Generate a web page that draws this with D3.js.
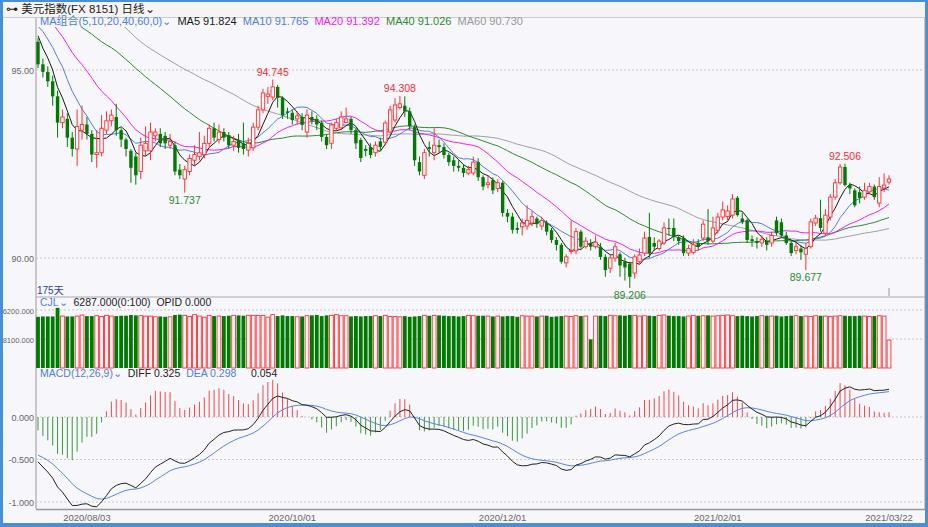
<!DOCTYPE html>
<html>
<head>
<meta charset="utf-8">
<script src="https://cdn.jsdelivr.net/npm/d3@7"></script>
<style>
  body { margin: 0; background: #fff; }
  svg { display: block; font-family: "Liberation Sans", "Noto Sans CJK SC", sans-serif; }
</style>
</head>
<body>
<svg id="chart" width="928" height="527"></svg>
<script>
// price history before the visible window (only feeds the moving averages / MACD)
const priorCloses = [100.3,100.4,100.0,99.8,99.9,99.1,99.3,99.8,100.1,100.0,99.7,99.9,100.2,100.4,100.0,99.6,99.5,99.3,99.7,99.9,
  99.8,99.5,99.1,98.4,98.3,98.1,97.7,97.6,97.0,96.9,96.7,96.5,96.9,97.3,97.0,96.8,97.1,97.6,97.3,97.0,
  97.1,97.4,97.6,97.5,97.4,97.1,97.4,97.2,96.9,96.6,96.7,96.4,96.7,96.5,96.3,96.2,96.6,96.0,95.9,95.9];

const opens = [95.75,95.15,94.95,94.70,94.30,93.60,93.70,93.20,92.90,93.40,
  93.55,93.30,92.75,92.80,93.40,93.65,93.75,93.40,93.15,92.85,
  92.70,92.30,92.85,92.85,93.25,93.30,93.25,93.00,93.00,92.35,
  92.10,92.30,92.60,92.70,92.75,93.05,93.45,93.15,93.35,93.27,
  93.00,93.14,93.05,92.87,92.93,93.48,93.94,94.30,94.28,94.55,
  94.26,93.90,93.86,93.70,93.75,93.35,93.75,93.70,93.60,93.22,
  93.05,93.45,93.46,93.60,93.70,93.40,93.14,92.90,92.95,92.80,
  93.10,93.08,93.35,93.67,94.00,94.05,93.90,93.48,92.55,92.20,
  92.95,92.80,93.00,92.95,92.74,92.60,92.45,92.40,92.26,92.26,
  92.55,92.15,91.95,92.07,91.85,92.00,91.20,91.10,90.80,90.83,
  90.85,90.93,91.05,90.85,90.93,90.74,90.48,90.35,89.87,90.19,
  90.19,90.70,90.30,90.40,90.30,90.30,90.03,89.73,90.00,90.10,
  89.90,89.85,89.60,89.90,90.13,90.56,90.40,90.25,90.40,90.80,
  90.80,90.55,90.53,90.13,90.15,90.40,90.53,90.55,90.45,90.74,
  91.09,91.10,91.14,91.60,91.05,91.00,90.50,90.45,90.40,90.45,
  90.40,91.00,90.95,90.60,90.40,90.20,90.25,90.10,90.30,90.93,
  91.06,90.66,91.09,91.62,92.00,92.42,91.94,91.80,91.75,91.62,
  91.76,91.90,91.46,91.86,92.02];
const closes = [95.15,94.95,94.70,94.30,93.60,93.75,93.20,92.90,93.50,93.55,
  93.30,92.75,92.80,93.45,93.65,93.80,93.40,93.15,92.90,92.40,
  92.20,93.00,93.05,93.35,93.35,93.05,93.05,93.10,92.30,92.20,
  92.35,92.65,92.75,92.80,93.05,93.45,93.20,93.35,93.20,93.00,
  93.10,92.93,92.90,93.05,93.48,93.94,94.39,94.36,94.55,94.26,
  93.80,93.86,93.67,93.78,93.54,93.80,93.65,93.55,93.22,93.00,
  93.54,93.60,93.75,93.70,93.40,93.05,92.66,92.85,92.74,93.00,
  92.95,93.59,93.94,94.07,94.10,93.90,93.50,92.60,92.30,92.80,
  92.90,93.00,92.95,92.74,92.55,92.45,92.40,92.26,92.35,92.55,
  92.15,91.90,92.00,91.80,92.00,91.20,91.10,90.75,90.75,90.93,
  91.00,91.10,90.90,91.00,90.70,90.48,90.35,89.90,90.03,90.20,
  90.70,90.30,90.45,90.30,90.42,90.03,89.68,90.00,90.30,89.80,
  89.75,89.50,90.03,90.08,90.53,90.13,90.30,90.45,90.80,90.78,
  90.56,90.45,90.13,90.25,90.35,90.30,90.90,90.45,90.80,91.09,
  91.28,91.25,91.57,91.14,90.95,90.48,90.45,90.40,90.50,90.35,
  90.60,90.66,90.60,90.40,90.13,90.30,90.15,90.25,90.96,91.06,
  90.80,91.14,91.62,92.00,92.42,91.94,91.85,91.40,91.60,91.80,
  91.90,91.62,91.90,91.94,92.10];
const highs = [95.85,95.30,95.10,94.85,94.45,93.95,93.85,93.35,93.95,94.05,
  93.75,93.40,93.40,93.80,93.90,93.95,94.10,93.45,93.20,92.90,
  92.80,93.20,93.50,93.60,93.45,93.45,93.35,93.30,93.10,92.50,
  92.45,92.75,93.00,93.35,93.25,93.55,93.60,93.55,93.45,93.35,
  93.25,93.30,93.60,93.20,93.60,94.05,94.50,94.55,94.745,94.60,
  94.30,94.00,93.95,93.90,93.85,93.95,93.90,93.80,93.65,93.30,
  93.60,93.70,93.90,94.00,93.75,93.45,93.20,93.00,93.05,93.10,
  93.20,93.65,94.05,94.25,94.308,94.30,94.00,93.55,92.70,92.90,
  93.10,93.45,93.15,93.05,92.80,92.70,92.60,92.50,92.45,92.70,
  92.65,92.20,92.20,92.15,92.10,92.05,91.30,91.20,90.95,91.05,
  91.40,91.25,91.10,91.10,91.00,90.80,90.55,90.40,90.10,91.00,
  90.80,90.75,90.55,90.50,90.60,90.40,90.10,90.10,90.40,90.15,
  90.00,89.90,90.10,90.25,90.70,91.20,90.55,90.50,90.95,91.05,
  91.05,90.60,90.60,90.35,90.50,90.50,91.00,91.30,91.10,91.20,
  91.50,91.40,91.70,91.65,91.20,91.05,90.60,90.55,90.60,90.55,
  90.70,91.10,91.05,90.70,90.45,90.40,90.35,90.40,91.05,91.15,
  91.55,91.30,91.70,92.10,92.50,92.506,92.00,91.85,91.90,92.00,
  92.00,91.95,92.15,92.25,92.20];
const lows = [95.05,94.80,94.55,94.05,93.20,93.45,92.95,92.70,92.45,93.15,
  93.15,92.55,92.40,92.70,93.30,93.50,93.25,92.95,92.70,92.00,
  91.95,92.10,92.70,92.60,93.10,92.95,92.90,92.90,92.20,92.10,
  91.737,92.20,92.45,92.60,92.65,92.95,93.10,93.05,93.10,92.90,
  92.85,92.80,92.75,92.70,92.85,93.40,93.85,94.10,94.20,94.00,
  93.70,93.70,93.55,93.55,93.40,93.20,93.55,93.40,93.10,92.90,
  92.90,93.40,93.40,93.60,93.30,92.90,92.55,92.70,92.65,92.70,
  92.85,93.00,93.30,93.60,93.95,93.75,93.40,92.45,92.20,92.10,
  92.70,92.60,92.80,92.65,92.45,92.30,92.30,92.15,92.20,92.20,
  92.05,91.80,91.85,91.70,91.75,91.10,90.95,90.65,90.65,90.60,
  90.75,90.85,90.80,90.75,90.60,90.40,90.20,89.85,89.75,90.10,
  90.10,90.25,90.25,90.20,90.25,89.95,89.50,89.60,89.90,89.50,
  89.40,89.206,89.45,89.85,90.05,90.00,90.20,90.20,90.35,90.60,
  90.45,90.35,90.05,90.05,90.10,90.20,90.45,90.35,90.40,90.65,
  91.00,91.00,91.05,91.10,90.90,90.40,90.30,90.25,90.30,90.20,
  90.30,90.60,90.55,90.35,90.05,90.10,89.95,89.677,90.25,90.85,
  90.70,90.60,91.00,91.55,91.95,91.90,91.70,91.35,91.45,91.55,
  91.70,91.55,91.35,91.75,91.95];
const volumes = [14300,14400,14400,14400,16800,14500,14400,14400,14500,14800,
  14500,14500,14600,14400,14700,14500,14500,14600,14600,14800,
  14700,14600,14500,14500,14300,14400,14300,14300,14800,14900,
  14700,14400,14900,14500,14200,14700,14500,14500,14500,14600,
  14700,14700,14600,14700,14700,14700,14700,14200,14900,14500,
  14700,14500,14500,14300,14400,14600,14700,14800,14500,14700,
  14700,14900,14600,14600,14400,14500,14400,14500,14500,14600,
  14500,14700,14400,14400,14300,14500,14300,14400,14500,14700,
  14600,14700,14700,14600,14500,14500,14400,14500,14700,14600,
  14600,14600,14500,14400,14500,14400,14500,14500,14300,14600,
  14500,14500,14400,14500,14600,14300,14400,14500,14500,14400,
  14600,14500,14500,8000,14500,14600,14500,14700,14600,14700,
  14600,14800,14700,14500,14600,14600,14500,14700,14800,14600,
  14500,14500,14400,14500,14700,14600,14600,14700,14500,14600,
  14700,14800,14600,14500,14600,14500,14400,14500,14600,14600,
  14500,14600,14400,14500,14600,14600,14500,14500,14400,14600,
  14600,14500,14400,14500,14600,14600,14500,14500,14600,14500,
  14400,14500,14600,14500,7800];

const priceTicks = [95, 90];
const volTicks = [16200, 8100];
const volTickLabels = ["6200.000", "8100.000"];
const macdTicks = [0, -0.5, -1];
const dateLabels = [[10, "2020/08/03"], [52, "2020/10/01"], [95, "2020/12/01"], [139, "2021/02/01"], [174, "2021/03/22"]];
const peakLabels = [[48, "94.745", "high"], [74, "94.308", "high"], [165, "92.506", "high"], [30, "91.737", "low"], [121, "89.206", "low"], [157, "89.677", "low"]];
const maPeriods = [60, 40, 20, 10, 5];
const maColors = {5: "#1a1a1a", 10: "#4f7fe0", 20: "#f020f0", 40: "#2e8b2e", 60: "#a0a0a0"};

const UP = "#ff3030", DOWN = "#007a00";
const n = closes.length;
const allCloses = priorCloses.concat(closes);
const off = priorCloses.length;

const svg = d3.select("#chart");
const L = 36, R = 925;

const x = d3.scaleLinear().domain([0, n - 1]).range([38, 889]);
const yP = d3.scaleLinear().domain([90, 95]).range([258, 70]);
const yV = d3.scaleLinear().domain([0, 16200]).range([368, 310]);
const yM = d3.scaleLinear().domain([-1, 0]).range([502, 417]);

// background + frame
svg.append("rect").attr("width", 928).attr("height", 527).attr("fill", "#4a8fd6");
svg.append("rect").attr("x", 3).attr("y", 2).attr("width", 922).attr("height", 521).attr("fill", "#f6f6fb");
svg.append("rect").attr("x", 3).attr("y", 2).attr("width", 922).attr("height", 15).attr("fill", "#f4f4f4");
svg.append("line").attr("x1", 3).attr("x2", 925).attr("y1", 17.5).attr("y2", 17.5).attr("stroke", "#ccc");
svg.append("text").attr("x", 6).attr("y", 13).attr("font-size", 11.5).attr("fill", "#222")
  .text("⊶ 美元指数(FX 8151)   日线⌄");

// plot borders
svg.append("line").attr("x1", L).attr("x2", L).attr("y1", 18).attr("y2", 509).attr("stroke", "#999");
svg.append("line").attr("x1", R).attr("x2", R).attr("y1", 18).attr("y2", 509).attr("stroke", "#999");
svg.append("line").attr("x1", L).attr("x2", R).attr("y1", 297).attr("y2", 297).attr("stroke", "#aaa");
svg.append("line").attr("x1", L).attr("x2", R).attr("y1", 509.5).attr("y2", 509.5).attr("stroke", "#999").attr("stroke-width", 1.5);

// grid + tick labels
function hgrid(scale, ticks, fmt, fs) {
  ticks.forEach((t, k) => {
    svg.append("line").attr("x1", L).attr("x2", R).attr("y1", scale(t)).attr("y2", scale(t))
      .attr("stroke", "#c8c8c8").attr("stroke-dasharray", "2,2");
    svg.append("text").attr("x", 34).attr("y", scale(t) + 3.5).attr("text-anchor", "end")
      .attr("font-size", fs).attr("fill", "#666").text(fmt(t, k));
  });
}
hgrid(yP, priceTicks, t => t.toFixed(2), 9);
hgrid(yV, volTicks, (t, k) => volTickLabels[k], 7.5);
hgrid(yM, macdTicks, t => t.toFixed(3), 9);

// moving averages (partial windows use available history)
svg.append("clipPath").attr("id", "topclip").append("rect")
  .attr("x", L).attr("y", 27).attr("width", R - L).attr("height", 269);
const gTop = svg.append("g").attr("clip-path", "url(#topclip)");

maPeriods.forEach(p => {
  const vals = closes.map((c, i) => {
    const s = allCloses.slice(Math.max(0, off + i - p + 1), off + i + 1);
    return d3.mean(s);
  });
  gTop.append("path").datum(vals)
    .attr("fill", "none").attr("stroke", maColors[p]).attr("stroke-width", 1)
    .attr("d", d3.line().x((d, i) => x(i)).y(d => yP(d)));
});

// candles
const bw = 3.4;
closes.forEach((c, i) => {
  const o = opens[i], up = c >= o;
  const col = up ? UP : DOWN;
  gTop.append("line").attr("x1", x(i)).attr("x2", x(i)).attr("y1", yP(highs[i])).attr("y2", yP(lows[i]))
    .attr("stroke", col).attr("stroke-width", 1);
  const top = yP(Math.max(o, c)), bot = yP(Math.min(o, c));
  gTop.append("rect").attr("x", x(i) - bw / 2).attr("y", top).attr("width", bw)
    .attr("height", Math.max(1, bot - top))
    .attr("fill", up ? "#f6f6fb" : col).attr("stroke", col).attr("stroke-width", up ? 0.9 : 0);
});

// high/low labels
peakLabels.forEach(([i, t, kind]) => {
  const isHigh = kind === "high";
  svg.append("text").attr("x", x(i)).attr("y", isHigh ? yP(highs[i]) - 4 : yP(lows[i]) + 11)
    .attr("text-anchor", "middle").attr("font-size", 10.5)
    .attr("fill", isHigh ? "#f03030" : "#2e8b2e").text(t);
});

// top legend
const leg = svg.append("text").attr("x", 40).attr("y", 25).attr("font-size", 11).attr("xml:space", "preserve");
leg.append("tspan").attr("fill", "#4f7fe0").text("MA组合(5,10,20,40,60,0)⌄  ");
[[5, "91.824"], [10, "91.765"], [20, "91.392"], [40, "91.026"], [60, "90.730"]].forEach(([p, v]) => {
  leg.append("tspan").attr("fill", maColors[p] === "#a0a0a0" ? "#999" : maColors[p]).text("MA" + p + " " + v + "  ");
});
svg.append("text").attr("x", 37).attr("y", 294).attr("font-size", 10).attr("fill", "#3040a0").text("175天");
svg.append("line").attr("x1", x(174)).attr("x2", x(174)).attr("y1", 288).attr("y2", 296).attr("stroke", "#999");

// volume
volumes.forEach((v, i) => {
  const up = closes[i] >= opens[i];
  svg.append("rect").attr("x", x(i) - 1.9).attr("y", yV(v)).attr("width", 3.8).attr("height", yV(0) - yV(v))
    .attr("fill", up ? "#f6f6fb" : DOWN).attr("stroke", up ? UP : "none").attr("stroke-width", 0.9);
});
const vleg = svg.append("text").attr("x", 40).attr("y", 306).attr("font-size", 10.5).attr("xml:space", "preserve");
vleg.append("tspan").attr("fill", "#4f7fe0").text("CJL⌄  ");
vleg.append("tspan").attr("fill", "#222").text("6287.000(0:100)  OPID 0.000");

// MACD computed from closes
let e12 = allCloses[0], e26 = allCloses[0], dea = 0;
const diffs = [], deas = [];
allCloses.forEach(c => {
  e12 = e12 + (c - e12) * 2 / 13;
  e26 = e26 + (c - e26) * 2 / 27;
  const df = e12 - e26;
  dea = dea + (df - dea) * 2 / 10;
  diffs.push(df); deas.push(dea);
});
const diffV = diffs.slice(off), deaV = deas.slice(off);
svg.append("clipPath").attr("id", "mclip").append("rect")
  .attr("x", L).attr("y", 380).attr("width", R - L).attr("height", 128);
const gM = svg.append("g").attr("clip-path", "url(#mclip)");
diffV.forEach((d, i) => {
  const h = 2 * (d - deaV[i]);
  gM.append("line").attr("x1", x(i)).attr("x2", x(i)).attr("y1", yM(0)).attr("y2", yM(h))
    .attr("stroke", h >= 0 ? "#f04848" : "#3a9a3a").attr("stroke-width", 1);
});
gM.append("path").datum(deaV).attr("fill", "none").attr("stroke", "#5a82e6").attr("stroke-width", 1)
  .attr("d", d3.line().x((d, i) => x(i)).y(d => yM(d)));
gM.append("path").datum(diffV).attr("fill", "none").attr("stroke", "#222").attr("stroke-width", 1)
  .attr("d", d3.line().x((d, i) => x(i)).y(d => yM(d)));
const mleg = svg.append("text").attr("x", 40).attr("y", 377).attr("font-size", 10.5).attr("xml:space", "preserve");
mleg.append("tspan").attr("fill", "#4f7fe0").text("MACD(12,26,9)⌄  ");
mleg.append("tspan").attr("fill", "#222").text("DIFF 0.325  ");
mleg.append("tspan").attr("fill", "#4f7fe0").text("DEA 0.298  ");
mleg.append("tspan").attr("fill", "#222").text("   0.054");

// date axis
dateLabels.forEach(([i, t]) => {
  svg.append("text").attr("x", x(i)).attr("y", 521).attr("text-anchor", "middle")
    .attr("font-size", 9.5).attr("fill", "#666").text(t);
});
</script>
</body>
</html>
